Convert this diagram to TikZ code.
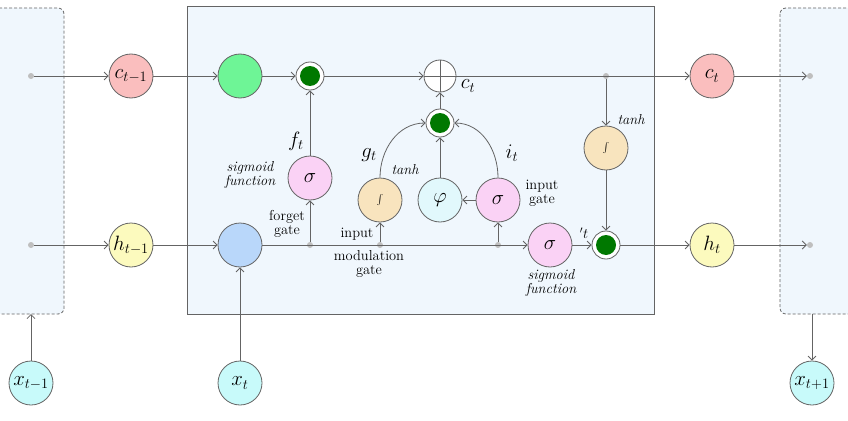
\documentclass[tikz,border=0pt]{standalone}
\usetikzlibrary{arrows.meta,positioning}
\definecolor{edgegray}{RGB}{100,100,100}
\definecolor{boxfill}{RGB}{240,247,253}
\definecolor{cpink}{RGB}{250,190,190}
\definecolor{hyel}{RGB}{252,250,190}
\definecolor{xcyan}{RGB}{200,250,250}
\definecolor{sigpink}{RGB}{250,210,245}
\definecolor{tanhc}{RGB}{248,228,190}
\definecolor{phic}{RGB}{225,248,252}
\definecolor{lgreen}{RGB}{110,245,150}
\definecolor{lblue}{RGB}{185,215,250}
\definecolor{dgreen}{RGB}{0,120,0}
\tikzset{
  unit/.style={circle,draw=edgegray,thick,minimum size=44pt,inner sep=0pt,font=\huge},
  mult/.style={circle,draw=edgegray,thick,fill=white,minimum size=28pt,inner sep=0pt,
    path picture={\fill[dgreen] (path picture bounding box.center) circle (10pt);}},
  dot/.style={circle,fill=gray!50,minimum size=6pt,inner sep=0pt},
  link/.style={draw=edgegray,thick,-{Straight Barb[length=4pt]}},
  lbl/.style={font=\Large,align=center,inner sep=1pt},
  ilbl/.style={font=\Large\itshape,align=center,inner sep=1pt}
}
\begin{document}
\begin{tikzpicture}[x=1pt,y=-1pt]
  \useasboundingbox (0,0) rectangle (848,420);
  % cells
  \draw[densely dashed,draw=edgegray,thick,fill=boxfill,rounded corners=6pt] (-6,8) rectangle (64,314);
  \draw[densely dashed,draw=edgegray,thick,fill=boxfill,rounded corners=6pt] (780,8) rectangle (854,314);
  \draw[draw=edgegray,thick,fill=boxfill] (187,6) rectangle (654,314);
  \coordinate (lbox) at (31,314);
  \coordinate (rbox) at (812,314);
  % points
  \node[dot] (lc) at (31,76) {};
  \node[dot] (lh) at (31,245) {};
  \node[dot] (rc) at (810,76) {};
  \node[dot] (rh) at (810,245) {};
  \node[dot] (df) at (310,245) {};
  \node[dot] (dg) at (380,245) {};
  \node[dot] (di) at (498,245) {};
  \node[dot] (dc) at (606,76) {};
  % units
  \node[unit,fill=cpink] (cprev) at (131,76) {$c_{t-1}$};
  \node[unit,fill=hyel] (hprev) at (131,245) {$h_{t-1}$};
  \node[unit,fill=xcyan] (xprev) at (31,383) {$x_{t-1}$};
  \node[unit,fill=xcyan] (xcur) at (240,383) {$x_t$};
  \node[unit,fill=xcyan] (xnext) at (812,383) {$x_{t+1}$};
  \node[unit,fill=lgreen] (cin) at (240,76) {};
  \node[unit,fill=lblue] (hin) at (240,245) {};
  \node[mult] (fmul) at (310,76) {};
  \node[circle,draw=edgegray,thick,fill=white,minimum size=32pt] (plus) at (440,76) {};
  \draw[edgegray,thick] (plus.north) -- (plus.south) (plus.west) -- (plus.east);
  \node[mult] (imul) at (440,123) {};
  \node[unit,fill=sigpink] (fsig) at (310,178) {$\sigma$};
  \node[unit,fill=tanhc] (gtanh) at (380,200) {$\int$};
  \node[unit,fill=phic] (phi) at (440,200) {$\varphi$};
  \node[unit,fill=sigpink] (isig) at (498,200) {$\sigma$};
  \node[unit,fill=sigpink] (osig) at (550,245) {$\sigma$};
  \node[mult] (omul) at (606,245) {};
  \node[unit,fill=tanhc] (otanh) at (606,148) {$\int$};
  \node[unit,fill=cpink] (ccur) at (712,76) {$c_t$};
  \node[unit,fill=hyel] (hcur) at (712,245) {$h_t$};
  % connectors
  \draw[link] (lc) -- (cprev);
  \draw[link] (lh) -- (hprev);
  \draw[link] (cprev) -- (cin);
  \draw[link] (hprev) -- (hin);
  \draw[link] (cin) -- (fmul);
  \draw[link] (fmul) -- (plus);
  \draw[link] (plus) -- (ccur);
  \draw[link] (ccur) -- (rc);
  \draw[link] (hin) -- (osig);
  \draw[link] (osig) -- (omul);
  \draw[link] (omul) -- (hcur);
  \draw[link] (hcur) -- (rh);
  \draw[link] (xcur) -- (hin);
  \draw[link] (xprev) -- (lbox);
  \draw[link] (rbox) -- (xnext);
  \draw[link] (df) -- (fsig);
  \draw[link] (fsig) -- (fmul);
  \draw[link] (dg) -- (gtanh);
  \draw[link] (di) -- (isig);
  \draw[link] (isig) -- (phi);
  \draw[link] (phi) -- (imul);
  \draw[link] (gtanh.north) to[out=90,in=180] (imul);
  \draw[link] (isig.north) to[out=90,in=0] (imul);
  \draw[link] (imul) -- (plus);
  \draw[link] (dc) -- (otanh);
  \draw[link] (otanh) -- (omul);
  % labels
  \node[font=\huge] at (468,86) {$c_t$};
  \node[font=\huge] at (296,141) {$f_t$};
  \node[font=\huge] at (369,155) {$g_t$};
  \node[font=\huge] at (512,153) {$i_t$};
  \node[ilbl] at (250,175) {sigmoid\\[-4pt]function};
  \node[lbl] at (287,224) {forget\\[-4pt]gate};
  \node[ilbl] at (405,170) {tanh};
  \node[lbl] at (357,234) {input};
  \node[lbl] at (369,264) {modulation\\[-4pt]gate};
  \node[lbl] at (542,193) {input\\[-4pt]gate};
  \node[ilbl] at (551,283) {sigmoid\\[-4pt]function};
  \node[ilbl] at (631,120) {tanh};
  \node[font=\Large] at (584,233) {$'t$};
\end{tikzpicture}
\end{document}
